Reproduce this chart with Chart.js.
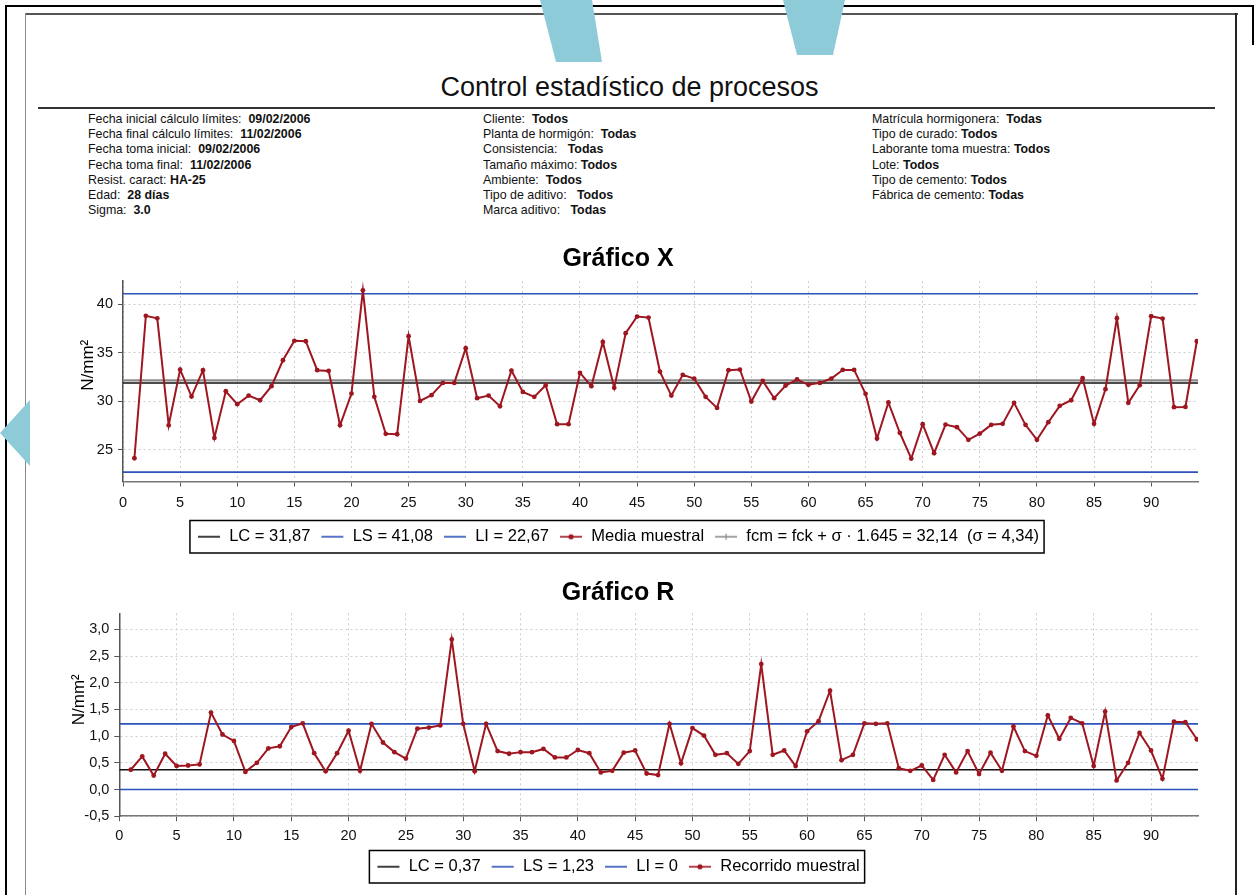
<!DOCTYPE html>
<html>
<head>
<meta charset="utf-8">
<script src="https://cdn.jsdelivr.net/npm/chart.js@4.4.1/dist/chart.umd.min.js"></script>
<style>
  body { margin: 0; background: #fff; width: 1259px; height: 895px; overflow: hidden; position: relative;
         font-family: "Liberation Sans", Arial, sans-serif; color: #111; }
  .line { position: absolute; }
  .info { position: absolute; top: 112px; font-size: 12.4px; line-height: 15.2px; white-space: pre; }
  #title { position: absolute; top: 71px; left: 0; width: 1259px; text-align: center; font-size: 27px; line-height: 32px; }
  .chartbox { position: absolute; left: 0; }
</style>
</head>
<body>

<!-- page frames of the scan -->
<div class="line" style="left:5px;top:5px;width:2px;height:890px;background:#000"></div>
<div class="line" style="left:5px;top:5px;width:1248px;height:2px;background:#000"></div>
<div class="line" style="left:1252px;top:5px;width:2px;height:40px;background:#000"></div>
<div class="line" style="left:25px;top:13px;width:1213px;height:2px;background:#555"></div>
<div class="line" style="left:25px;top:13px;width:1px;height:882px;background:#888"></div>
<div class="line" style="left:1235px;top:13px;width:2px;height:882px;background:#222"></div>

<svg class="line" style="left:0;top:0" width="1259" height="895">
  <polygon points="540,0 592,0 602,62 556,62" fill="#8dcbd9"/>
  <polygon points="783,0 845,0 833,55 797,55" fill="#8dcbd9"/>
  <polygon points="0,433 30,400 30,466" fill="#8dcbd9"/>
</svg>

<div id="title">Control estadístico de procesos</div>
<div class="line" style="left:38px;top:107px;width:1177px;height:1.5px;background:#333"></div>

<div class="info" style="left:88px">Fecha inicial cálculo límites:  <b>09/02/2006</b>
Fecha final cálculo límites:  <b>11/02/2006</b>
Fecha toma inicial:  <b>09/02/2006</b>
Fecha toma final:  <b>11/02/2006</b>
Resist. caract: <b>HA-25</b>
Edad:  <b>28 días</b>
Sigma:  <b>3.0</b></div>

<div class="info" style="left:483px">Cliente:  <b>Todos</b>
Planta de hormigón:  <b>Todas</b>
Consistencia:   <b>Todas</b>
Tamaño máximo: <b>Todos</b>
Ambiente:  <b>Todos</b>
Tipo de aditivo:   <b>Todos</b>
Marca aditivo:   <b>Todas</b></div>

<div class="info" style="left:872px">Matrícula hormigonera:  <b>Todas</b>
Tipo de curado: <b>Todos</b>
Laborante toma muestra: <b>Todos</b>
Lote: <b>Todos</b>
Tipo de cemento: <b>Todos</b>
Fábrica de cemento: <b>Todas</b></div>

<div class="chartbox" style="top:235px"><canvas id="chartX" width="1259" height="330"></canvas></div>
<div class="chartbox" style="top:570px"><canvas id="chartR" width="1259" height="325"></canvas></div>

<script>
// sample means (Gráfico X), samples 1..94
var mediaMuestral = [24.1, 38.8, 38.55, 27.5, 33.26, 30.47, 33.19, 26.2, 31.02, 29.68,
  30.57, 30.09, 31.54, 34.22, 36.22, 36.18, 33.19, 33.12, 27.51, 30.78,
  41.44, 30.44, 26.62, 26.58, 36.7, 30.02, 30.61, 31.88, 31.88, 35.46,
  30.3, 30.57, 29.47, 33.15, 30.95, 30.44, 31.64, 27.62, 27.62, 32.91,
  31.54, 36.11, 31.37, 37.01, 38.73, 38.62, 33.05, 30.57, 32.71, 32.33,
  30.44, 29.3, 33.19, 33.26, 29.96, 32.09, 30.3, 31.61, 32.23, 31.68,
  31.88, 32.33, 33.22, 33.22, 30.75, 26.14, 29.86, 26.73, 24.07, 27.62,
  24.62, 27.58, 27.31, 26.0, 26.65, 27.55, 27.65, 29.82, 27.55, 26.0,
  27.82, 29.51, 30.09, 32.36, 27.65, 31.23, 38.56, 29.82, 31.64, 38.76,
  38.52, 29.37, 29.4, 36.18];

// sample ranges (Gráfico R)
var recorridoMuestral = [0.37, 0.62, 0.26, 0.67, 0.44, 0.45, 0.47, 1.44, 1.03, 0.91,
  0.33, 0.5, 0.77, 0.81, 1.17, 1.24, 0.68, 0.34, 0.68, 1.1,
  0.35, 1.23, 0.88, 0.7, 0.58, 1.14, 1.16, 1.2, 2.81, 1.23,
  0.34, 1.23, 0.72, 0.67, 0.7, 0.7, 0.76, 0.6, 0.6, 0.74,
  0.68, 0.32, 0.35, 0.69, 0.73, 0.3, 0.27, 1.23, 0.49, 1.15,
  1.01, 0.65, 0.68, 0.48, 0.72, 2.35, 0.65, 0.73, 0.44, 1.09,
  1.28, 1.85, 0.55, 0.65, 1.24, 1.23, 1.24, 0.4, 0.35, 0.45,
  0.18, 0.65, 0.32, 0.72, 0.29, 0.69, 0.35, 1.18, 0.72, 0.63,
  1.39, 0.95, 1.34, 1.24, 0.44, 1.46, 0.17, 0.5, 1.06, 0.73,
  0.2, 1.27, 1.26, 0.94];

// control limits
var limitesX = { LC: 31.87, LS: 41.08, LI: 22.67 };
var fcm = 32.14, sigma = 4.34;
var limitesR = { LC: 0.37, LS: 1.23, LI: 0 };

// axis ranges
var xRange = [0, 94.1];
var yRangeX = [21.7, 42.4];
var yRangeR = [-0.5, 3.3];

var FONT = '"Liberation Sans", Arial, sans-serif';
Chart.defaults.font.family = FONT;
Chart.defaults.color = '#111';

var RED = '#9e1620', BLUE = '#2d52b8', BLACK = '#111', GREY = '#8c8c8c';

function coma(v, d) {
  return d == null ? String(v).replace('.', ',') : v.toFixed(d).replace('.', ',');
}

function icon(color, mark) {
  var c = document.createElement('canvas');
  c.width = 24; c.height = 12;
  var g = c.getContext('2d');
  g.strokeStyle = color; g.lineWidth = 1.6;
  g.beginPath(); g.moveTo(1, 6); g.lineTo(23, 6); g.stroke();
  if (mark === 'dot') {
    g.fillStyle = color; g.beginPath(); g.arc(12, 6, 2.6, 0, Math.PI * 2); g.fill();
  } else if (mark === 'plus') {
    g.lineWidth = 1.2; g.beginPath(); g.moveTo(12, 3); g.lineTo(12, 9); g.stroke();
  }
  return c;
}

function hline(label, y, color, width, ic) {
  return {
    label: label, data: [{ x: xRange[0], y: y }, { x: xRange[1], y: y }],
    borderColor: color, borderWidth: width, pointRadius: 0, pointHoverRadius: 0,
    legendIcon: ic, order: 2
  };
}

function serie(label, values) {
  return {
    label: label,
    data: values.map(function (v, i) { return { x: i + 1, y: v }; }),
    borderColor: RED, backgroundColor: RED, borderWidth: 2,
    pointRadius: 2.4, pointBackgroundColor: RED, pointBorderWidth: 0,
    legendIcon: icon(RED, 'dot'), order: 0
  };
}

// box drawn round the legend items
var legendBox = {
  id: 'legendBox',
  afterDraw: function (chart) {
    var hb = chart.legend.legendHitBoxes;
    if (!hb || !hb.length) return;
    var l = Infinity, r = -Infinity, t = Infinity, b = -Infinity;
    hb.forEach(function (h) {
      l = Math.min(l, h.left); r = Math.max(r, h.left + h.width);
      t = Math.min(t, h.top); b = Math.max(b, h.top + h.height);
    });
    var ctx = chart.ctx;
    ctx.save();
    ctx.strokeStyle = '#000'; ctx.lineWidth = 1.5;
    ctx.strokeRect(l - 7, t - 8, r - l + 12, b - t + 16);
    ctx.restore();
  }
};

// rotated y axis label, a little above the middle as in the print
var yTitle = {
  id: 'yTitle',
  afterDraw: function (chart, args, o) {
    var a = chart.chartArea, ctx = chart.ctx;
    ctx.save();
    ctx.translate(o.x, (a.top + a.bottom) / 2 + o.dy);
    ctx.rotate(-Math.PI / 2);
    ctx.textAlign = 'center'; ctx.textBaseline = 'middle';
    ctx.fillStyle = '#000';
    ctx.font = '17px ' + FONT;
    ctx.fillText(o.text, 0, 0);
    ctx.restore();
  }
};

function options(title, yRange, yFmt, titlePad, xAxisH, tickPad, yt) {
  return {
    responsive: false, animation: false,
    layout: { padding: { left: 38, right: 61, top: 0, bottom: 10 } },
    plugins: {
      title: { display: true, text: title, color: '#000', font: { size: 25, weight: 'bold' }, padding: titlePad },
      legend: {
        position: 'bottom',
        labels: {
          usePointStyle: true, pointStyleWidth: 24, padding: 10, color: '#000',
          font: { size: 16.5 },
          generateLabels: function (chart) {
            return chart.data.datasets.map(function (ds, i) {
              return { text: ds.label, pointStyle: ds.legendIcon, fontColor: '#000',
                       fillStyle: 'transparent', strokeStyle: 'transparent', lineWidth: 0,
                       hidden: false, datasetIndex: i };
            });
          }
        }
      },
      tooltip: { enabled: false },
      yTitle: yt
    },
    scales: {
      x: {
        type: 'linear', min: xRange[0], max: xRange[1],
        ticks: { stepSize: 5, includeBounds: false, font: { size: 14.5 }, color: '#111', padding: tickPad, maxRotation: 0 },
        grid: { color: '#cdcdcd', tickColor: '#555', tickLength: 5 },
        border: { color: '#777', width: 1.5, dash: [2, 3] },
        afterFit: function (s) { s.height = xAxisH; }
      },
      y: {
        min: yRange[0], max: yRange[1],
        ticks: { stepSize: yFmt.step, includeBounds: false, font: { size: 14.5 }, color: '#111', padding: 5,
                 callback: yFmt.cb },
        grid: { color: '#cdcdcd', tickColor: '#555', tickLength: 5 },
        border: { color: '#555', width: 1.5, dash: [2, 3] },
        afterFit: function (s) { s.width = yFmt.w; }
      }
    }
  };
}

new Chart(document.getElementById('chartX'), {
  type: 'line',
  data: {
    datasets: [
      hline('LC = ' + coma(limitesX.LC), limitesX.LC, BLACK, 1.6, icon(BLACK)),
      hline('LS = ' + coma(limitesX.LS), limitesX.LS, BLUE, 1.6, icon(BLUE)),
      hline('LI = ' + coma(limitesX.LI), limitesX.LI, BLUE, 1.6, icon(BLUE)),
      serie('Media muestral', mediaMuestral),
      hline('fcm = fck + σ · 1.645 = ' + coma(fcm) + '  (σ = ' + coma(sigma) + ')', fcm, GREY, 2.2, icon(GREY, 'plus'))
    ]
  },
  options: options('Gráfico X', yRangeX,
    { step: 5, w: 85, cb: function (v) { return v; } },
    { top: 9, bottom: 7 }, 37, 8,
    { text: 'N/mm²', x: 88, dy: -16 }),
  plugins: [legendBox, yTitle]
});

new Chart(document.getElementById('chartR'), {
  type: 'line',
  data: {
    datasets: [
      hline('LC = ' + coma(limitesR.LC), limitesR.LC, BLACK, 1.6, icon(BLACK)),
      hline('LS = ' + coma(limitesR.LS), limitesR.LS, BLUE, 1.6, icon(BLUE)),
      hline('LI = ' + coma(limitesR.LI), limitesR.LI, BLUE, 1.6, icon(BLUE)),
      serie('Recorrido muestral', recorridoMuestral)
    ]
  },
  options: options('Gráfico R', yRangeR,
    { step: 0.5, w: 81.3, cb: function (v) { return coma(v, 1); } },
    { top: 8, bottom: 5.3 }, 32.3, 6,
    { text: 'N/mm²', x: 79, dy: -15 }),
  plugins: [legendBox, yTitle]
});
</script>
</body>
</html>
